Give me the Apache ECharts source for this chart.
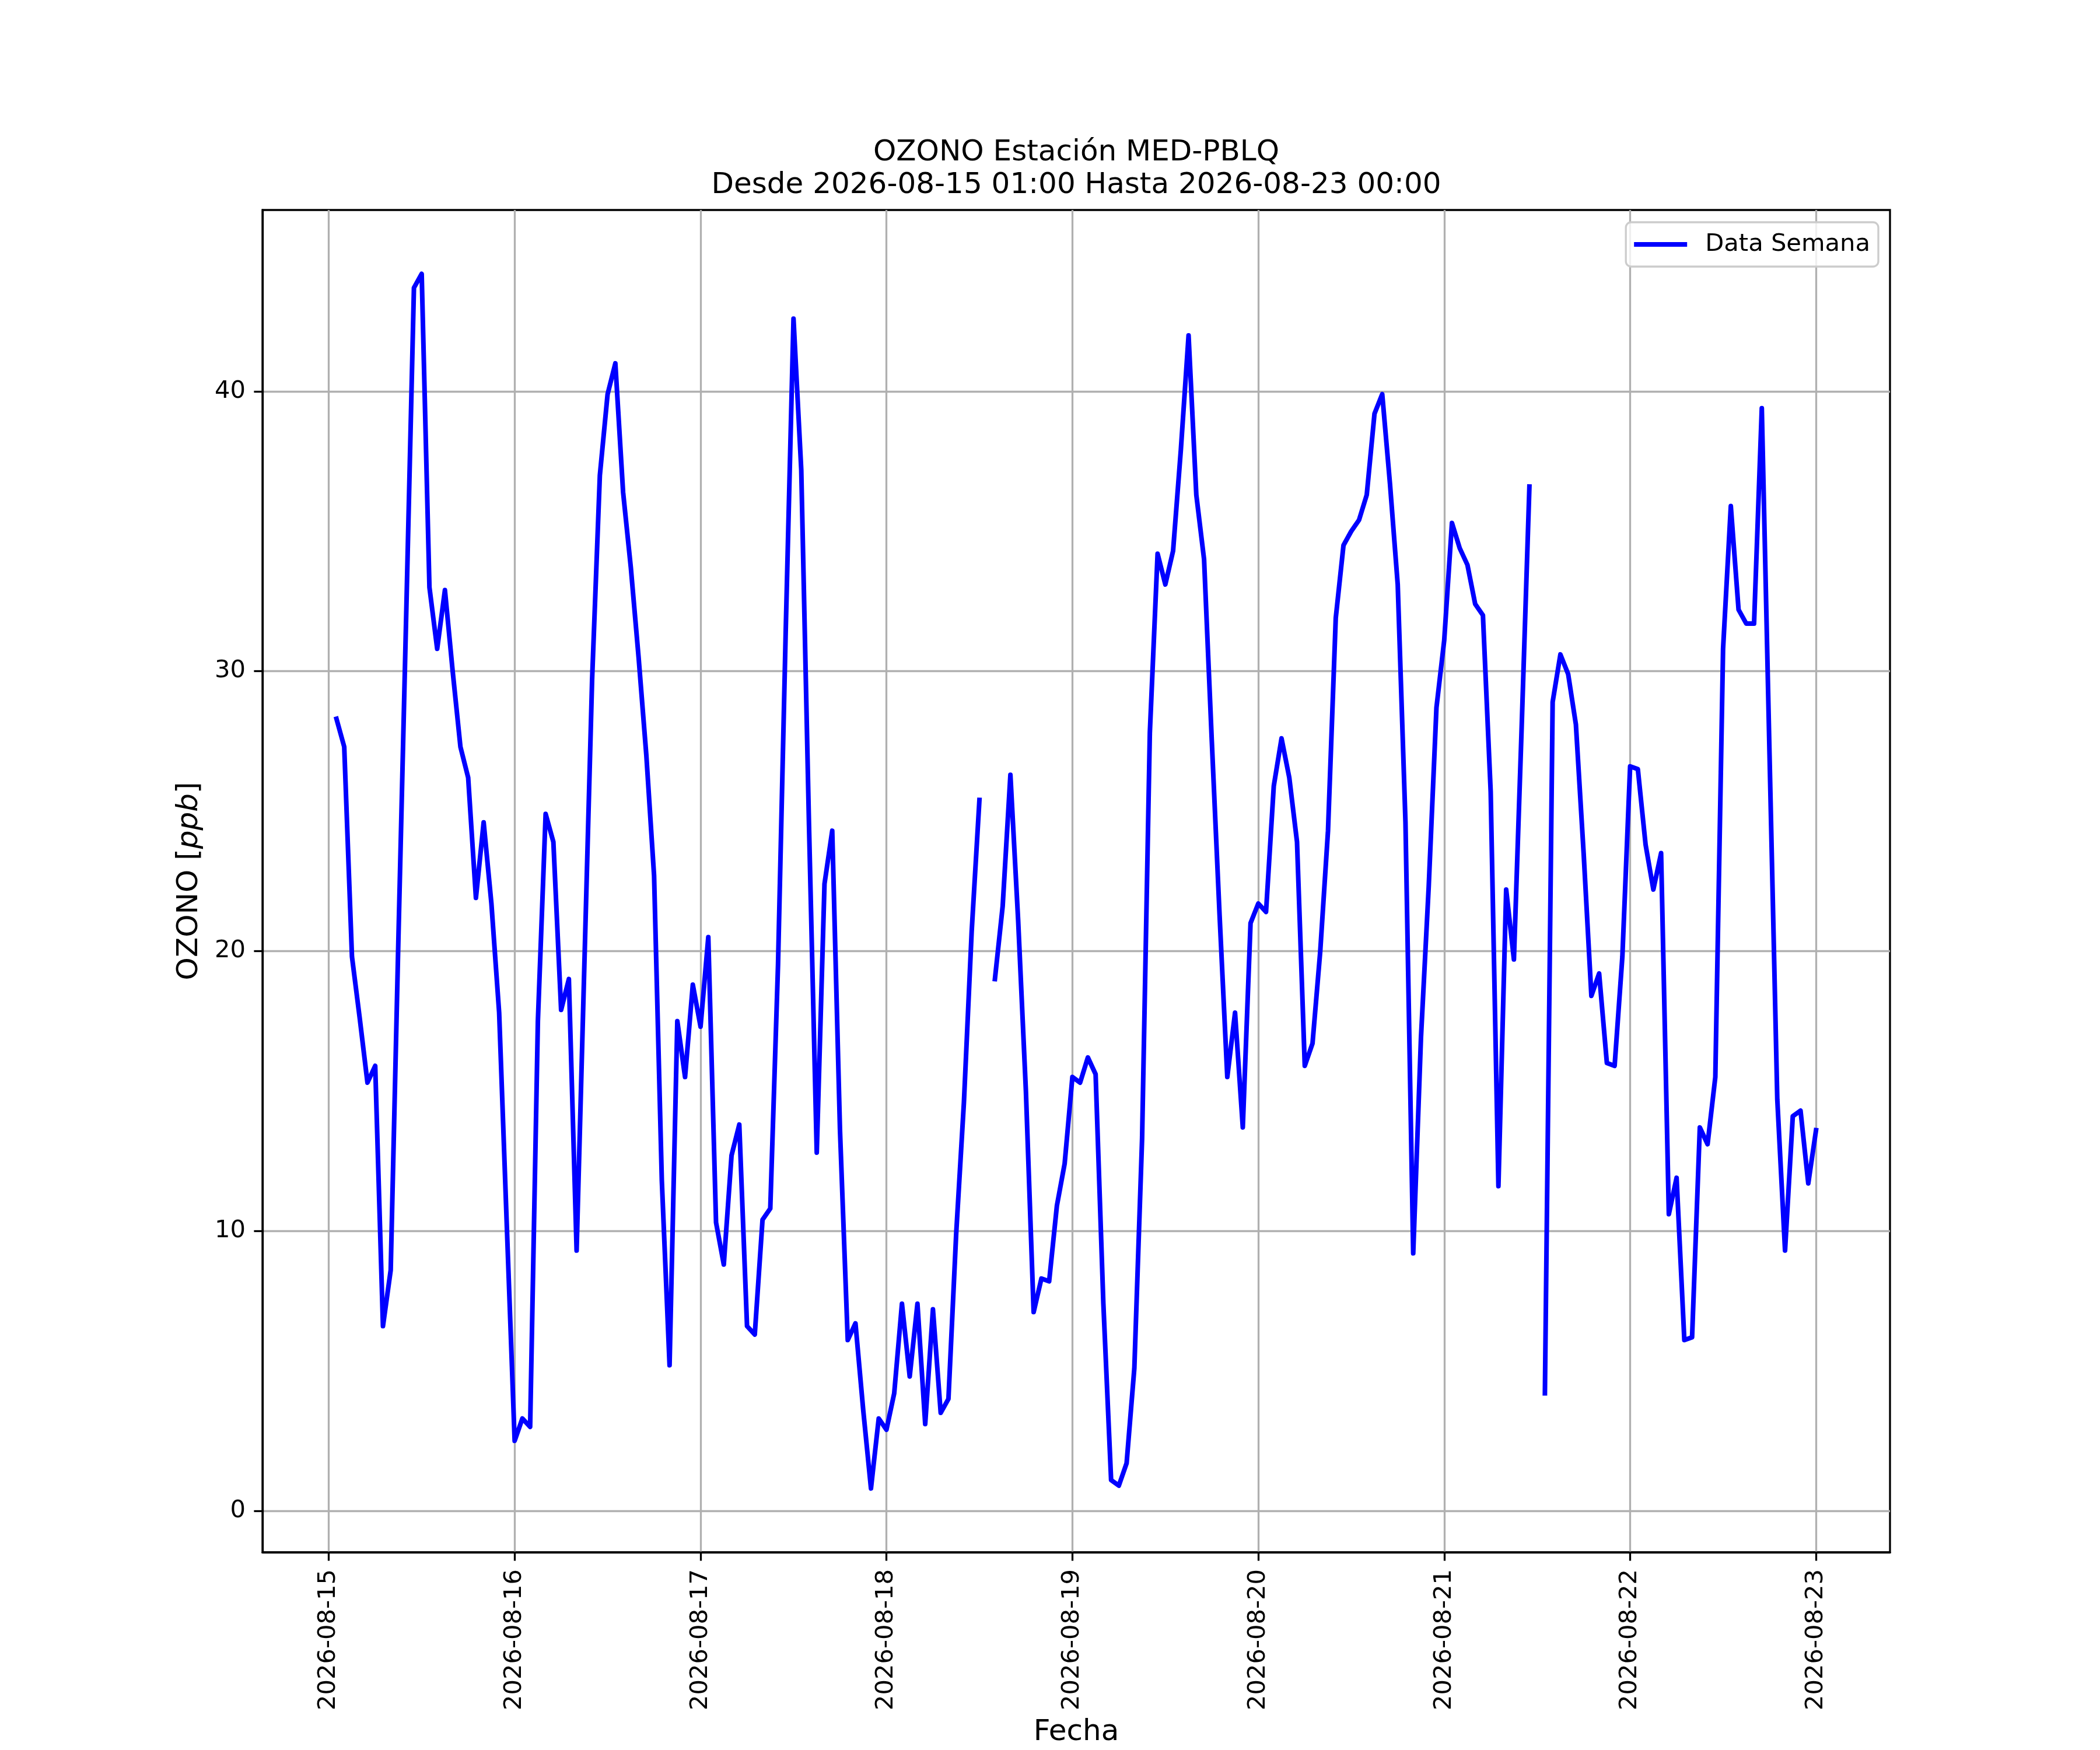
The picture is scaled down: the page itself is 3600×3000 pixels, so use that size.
<!DOCTYPE html>
<html>
<head>
<meta charset="utf-8">
<title>OZONO Estación MED-PBLQ</title>
<script src="https://cdn.jsdelivr.net/npm/echarts@6/dist/echarts.min.js"></script>
<style>
  html, body { margin: 0; padding: 0; background: #fff; }
  #chart { width: 3600px; height: 3000px; }
</style>
</head>
<body>
<div id="chart"></div>
<script>
// hourly ozone readings (ppb), null = missing hour
const aug15 = [28.3, 27.3, 19.8, 17.6, 15.3, 15.9, 6.6, 8.6, 20.5, 32.0, 43.7, 44.2,
    33.0, 30.8, 32.9, 30.0, 27.3, 26.2, 21.9, 24.6, 21.7, 17.8, 10.1];   // 01:00 .. 23:00
const aug16 = [2.5, 3.3, 3.0, 17.5, 24.9, 23.9, 17.9, 19.0, 9.3, 19.5, 29.7, 37.0,
    39.9, 41.0, 36.4, 33.7, 30.5, 27.0, 22.7, 11.8, 5.2, 17.5, 15.5, 18.8];
const aug17 = [17.3, 20.5, 10.3, 8.8, 12.7, 13.8, 6.6, 6.3, 10.4, 10.8, 19.5, 31.5,
    42.6, 37.2, 24.5, 12.8, 22.4, 24.3, 13.6, 6.1, 6.7, 3.6, 0.8, 3.3];
const aug18 = [2.9, 4.2, 7.4, 4.8, 7.4, 3.1, 7.2, 3.5, 4.0, 9.9, 14.6, 20.7,
    25.4, null, 19.0, 21.6, 26.3, 21.1, 15.0, 7.1, 8.3, 8.2, 10.9, 12.4];
const aug19 = [15.5, 15.3, 16.2, 15.6, 7.4, 1.1, 0.9, 1.7, 5.1, 13.3, 27.8, 34.2,
    33.1, 34.3, 37.9, 42.0, 36.3, 34.0, 27.5, 21.3, 15.5, 17.8, 13.7, 21.0];
const aug20 = [21.7, 21.4, 25.9, 27.6, 26.2, 23.9, 15.9, 16.7, 20.0, 24.3, 31.9, 34.5,
    35.0, 35.4, 36.3, 39.2, 39.9, 36.7, 33.1, 24.6, 9.2, 16.9, 22.3, 28.7];
const aug21 = [31.1, 35.3, 34.4, 33.8, 32.4, 32.0, 25.7, 11.6, 22.2, 19.7, 28.0, 36.6,
    null, 4.2, 28.9, 30.6, 29.9, 28.1, 23.5, 18.4, 19.2, 16.0, 15.9, 19.8];
const aug22 = [26.6, 26.5, 23.8, 22.2, 23.5, 10.6, 11.9, 6.1, 6.2, 13.7, 13.1, 15.5,
    30.8, 35.9, 32.2, 31.7, 31.7, 39.4, 27.0, 14.7, 9.3, 14.1, 14.3, 11.7];
const aug23 = [13.6];   // 00:00

const dayLabels = ['2026-08-15', '2026-08-16', '2026-08-17', '2026-08-18', '2026-08-19',
    '2026-08-20', '2026-08-21', '2026-08-22', '2026-08-23'];
const yTicks = [0, 10, 20, 30, 40];

// x is counted in hours from 2026-08-15 00:00, first reading at 01:00
const values = [].concat(aug15, aug16, aug17, aug18, aug19, aug20, aug21, aug22, aug23);
const seriesData = values.map((v, i) => [i + 1, v]);
const dayTicks = dayLabels.map((d, i) => i * 24);

const FONT = 'DejaVu Sans';
const TICK = 41.67;
const LABEL = 50;

const chart = echarts.init(document.getElementById('chart'), null, {renderer: 'canvas', devicePixelRatio: 1});

chart.setOption({
    animation: false,
    backgroundColor: '#ffffff',
    textStyle: {fontFamily: FONT, color: '#000'},
    graphic: [
        {
            type: 'text', x: 1845, y: 262,
            style: {text: 'OZONO Estación MED-PBLQ', font: LABEL + 'px "DejaVu Sans"',
                fill: '#000', textAlign: 'center', textVerticalAlign: 'middle'}
        },
        {
            type: 'text', x: 1845, y: 318,
            style: {text: 'Desde 2026-08-15 01:00 Hasta 2026-08-23 00:00', font: LABEL + 'px "DejaVu Sans"',
                fill: '#000', textAlign: 'center', textVerticalAlign: 'middle'}
        }
    ],
    grid: {
        left: 450, right: 360, top: 360, bottom: 330,
        show: true, borderColor: '#000', borderWidth: 3.3
    },
    legend: {
        right: 380, top: 381,
        orient: 'vertical',
        padding: [13, 14],
        backgroundColor: 'rgba(255,255,255,0.8)',
        borderColor: '#cccccc', borderWidth: 3.3, borderRadius: 9,
        icon: 'rect', itemWidth: 91, itemHeight: 8,
        textStyle: {fontFamily: FONT, fontSize: TICK, color: '#000', lineHeight: 50, padding: [0, 0, 0, 26]},
        data: ['Data Semana']
    },
    xAxis: {
        type: 'value',
        min: -8.55,
        max: 192 + 9.55,
        name: 'Fecha',
        nameLocation: 'middle',
        nameGap: 284,
        nameTextStyle: {fontFamily: FONT, fontSize: LABEL, color: '#000', verticalAlign: 'top'},
        axisLine: {show: true, onZero: false, lineStyle: {color: '#000', width: 3.3}},
        axisTick: {show: true, inside: false, length: 14.6, customValues: dayTicks,
            lineStyle: {color: '#000', width: 3.3}},
        axisLabel: {
            customValues: dayTicks,
            rotate: 90,
            margin: 29,
            fontFamily: FONT, fontSize: TICK, color: '#000',
            formatter: v => dayLabels[Math.round(v / 24)]
        },
        splitLine: {show: true, lineStyle: {color: '#b0b0b0', width: 3.3}}
    },
    yAxis: {
        type: 'value',
        min: -1.48,
        max: 46.48,
        name: '{n|OZONO }{b|[}{i|ppb}{b|]}',
        nameLocation: 'middle',
        nameGap: 100,
        nameTextStyle: {
            fontFamily: FONT, fontSize: LABEL, color: '#000',
            rich: {
                n: {fontFamily: FONT, fontSize: LABEL, color: '#000'},
                b: {fontFamily: FONT, fontSize: LABEL, color: '#000'},
                i: {fontFamily: FONT, fontSize: LABEL, color: '#000', fontStyle: 'italic'}
            }
        },
        axisLine: {show: true, onZero: false, lineStyle: {color: '#000', width: 3.3}},
        axisTick: {show: true, inside: false, length: 14.6, customValues: yTicks,
            lineStyle: {color: '#000', width: 3.3}},
        axisLabel: {
            customValues: yTicks,
            margin: 29,
            fontFamily: FONT, fontSize: TICK, color: '#000'
        },
        splitLine: {show: true, lineStyle: {color: '#b0b0b0', width: 3.3}}
    },
    series: [{
        name: 'Data Semana',
        type: 'line',
        data: seriesData,
        showSymbol: false,
        connectNulls: false,
        color: '#0000ff',
        lineStyle: {color: '#0000ff', width: 8, join: 'round', cap: 'square'}
    }]
});
</script>
</body>
</html>
